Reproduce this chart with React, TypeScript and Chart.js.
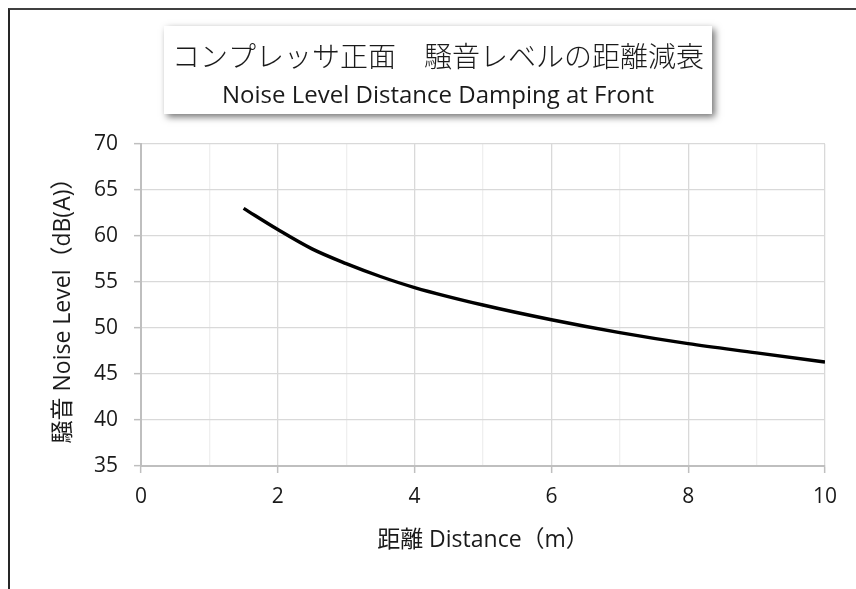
import React, { useEffect, useRef } from "react";
import { Chart, registerables } from "chart.js";

Chart.register(...registerables);

const titleJa = "コンプレッサ正面　騒音レベルの距離減衰";
const titleEn = "Noise Level Distance Damping at Front";
const xTitle = "距離 Distance（m）";
const yTitle = "騒音 Noise Level（dB(A)）";

const distances = [1.5, 2, 2.5, 3, 3.5, 4, 5, 6, 7, 8, 9, 10];
const noiseLevels = [63.0, 60.7, 58.6, 57.0, 55.6, 54.4, 52.5, 50.9, 49.5, 48.3, 47.3, 46.3];

const xMin = 0;
const xMax = 10;
const yMin = 35;
const yMax = 70;

const FONT = "'Open Sans', 'Noto Sans CJK JP', sans-serif";

const titleBoxPlugin = {
  id: "titleBox",
  beforeDraw(chart: any) {
    const ctx = chart.ctx;
    const x0 = 164, y0 = 26, x1 = 712, y1 = 114;
    ctx.save();
    ctx.shadowColor = "rgba(0,0,0,0.55)";
    ctx.shadowBlur = 7;
    ctx.shadowOffsetX = 3;
    ctx.shadowOffsetY = 3;
    ctx.fillStyle = "#ffffff";
    ctx.fillRect(x0, y0, x1 - x0, y1 - y0);
    ctx.restore();
    ctx.save();
    ctx.fillStyle = "#1a1a1a";
    ctx.textAlign = "center";
    ctx.textBaseline = "middle";
    const cx = (x0 + x1) / 2;
    ctx.font = "300 28px 'Noto Sans CJK JP', sans-serif";
    ctx.fillText(titleJa, cx, 56);
    ctx.font = "24px " + FONT;
    ctx.fillText(titleEn, cx, 96);
    ctx.restore();
  },
};

export default function App() {
  const ref = useRef<HTMLCanvasElement | null>(null);

  useEffect(() => {
    document.documentElement.style.overflow = "hidden";
    document.body.style.overflow = "hidden";
    const canvas = ref.current;
    if (!canvas) return;
    const chart = new Chart(canvas, {
      type: "line",
      data: {
        datasets: [
          {
            data: distances.map((d, i) => ({ x: d, y: noiseLevels[i] })),
            borderColor: "#000000",
            borderWidth: 3.4,
            pointRadius: 0,
            cubicInterpolationMode: "monotone",
            fill: false,
          },
        ],
      },
      options: {
        responsive: false,
        animation: false,
        layout: { padding: { left: 20, top: 144, right: 31, bottom: 20 } },
        plugins: {
          legend: { display: false },
          tooltip: { enabled: false },
        },
        scales: {
          x: {
            type: "linear",
            min: xMin,
            max: xMax,
            afterFit: (s: any) => {
              s.height = 103;
            },
            ticks: {
              stepSize: 1,
              autoSkip: false,
              maxRotation: 0,
              padding: 11,
              color: "#1a1a1a",
              font: { family: FONT, size: 21 },
              callback: (v: any) => (Number(v) % 2 === 0 ? String(v) : ""),
            },
            grid: {
              color: (c: any) => (c.tick && c.tick.value % 2 !== 0 ? "#efefef" : "#d9d9d9"),
              tickColor: (c: any) => (c.tick && c.tick.value % 2 !== 0 ? "rgba(0,0,0,0)" : "#bfbfbf"),
              lineWidth: 1.3,
              tickLength: 7,
              tickWidth: 1.5,
            },
            border: { color: "#bfbfbf", width: 2 },
            title: {
              display: true,
              text: xTitle,
              color: "#1a1a1a",
              font: { family: FONT, size: 23 },
              padding: { top: 0, bottom: 15 },
            },
          },
          y: {
            type: "linear",
            min: yMin,
            max: yMax,
            afterFit: (s: any) => {
              s.width = 121;
            },
            ticks: {
              stepSize: 5,
              padding: 16,
              color: "#1a1a1a",
              font: { family: FONT, size: 21 },
            },
            grid: {
              color: "#d9d9d9",
              tickColor: "#bfbfbf",
              lineWidth: 1.3,
              tickLength: 7,
              tickWidth: 1.5,
            },
            border: { color: "#bfbfbf", width: 2 },
            title: {
              display: true,
              text: yTitle,
              color: "#1a1a1a",
              font: { family: FONT, size: 23 },
              padding: { top: 30, bottom: 0 },
            },
          },
        },
      },
      plugins: [titleBoxPlugin],
    } as any);
    return () => chart.destroy();
  }, []);

  return (
    <div>
      <div
        style={{
          position: "fixed",
          left: 8,
          top: 8,
          width: 1000,
          height: 1000,
          borderTop: "2px solid #404040",
          borderLeft: "2px solid #262626",
          background: "#ffffff",
        }}
      />
      <canvas
        ref={ref}
        width={856}
        height={589}
        style={{ position: "fixed", left: 0, top: 0, width: 856, height: 589 }}
      />
    </div>
  );
}
